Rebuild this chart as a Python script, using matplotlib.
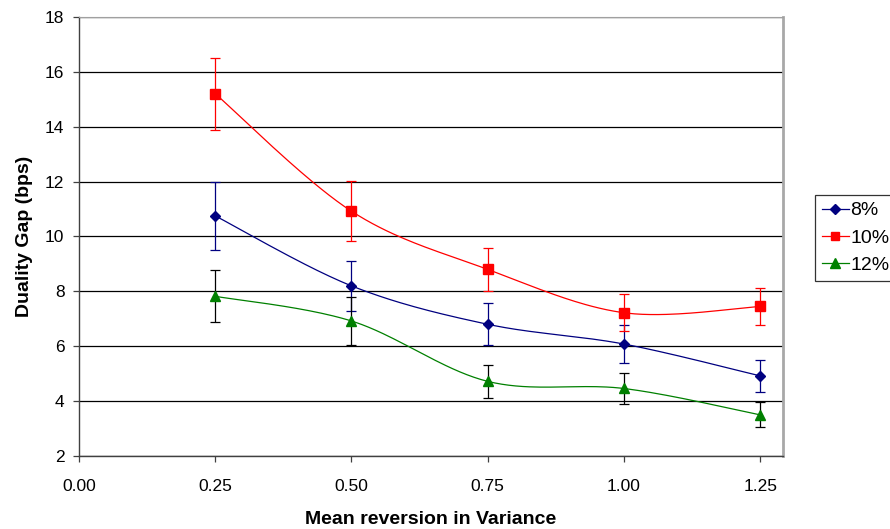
import numpy as np
import matplotlib.pyplot as plt

plt.rcParams['font.family'] = ['Liberation Sans', 'DejaVu Sans']

# mean reversion levels on the x axis
kappa = [0.25, 0.50, 0.75, 1.00, 1.25]

# duality gap (bps) and error bar half-widths per rate level
gap_8 = [10.75, 8.20, 6.80, 6.08, 4.92]
err_8 = [1.23, 0.90, 0.77, 0.68, 0.57]
gap_10 = [15.20, 10.92, 8.80, 7.22, 7.45]
err_10 = [1.31, 1.10, 0.78, 0.67, 0.68]
gap_12 = [7.82, 6.92, 4.72, 4.46, 3.50]
err_12 = [0.95, 0.89, 0.59, 0.58, 0.46]

labels = ['8%', '10%', '12%']


def smooth(x, y, n=40):
    # Catmull-Rom style cubic Bezier through the points (like Excel smoothing)
    x = np.asarray(x, float)
    y = np.asarray(y, float)
    px = np.concatenate([[x[0]], x, [x[-1]]])
    py = np.concatenate([[y[0]], y, [y[-1]]])
    xs, ys = [], []
    t = np.linspace(0, 1, n)
    for i in range(1, len(px) - 2):
        p0 = np.array([px[i], py[i]])
        p3 = np.array([px[i + 1], py[i + 1]])
        c1 = p0 + (np.array([px[i + 1], py[i + 1]]) - np.array([px[i - 1], py[i - 1]])) / 6
        c2 = p3 - (np.array([px[i + 2], py[i + 2]]) - np.array([px[i], py[i]])) / 6
        b = ((1 - t) ** 3)[:, None] * p0 + (3 * (1 - t) ** 2 * t)[:, None] * c1 \
            + (3 * (1 - t) * t ** 2)[:, None] * c2 + (t ** 3)[:, None] * p3
        xs.append(b[:, 0])
        ys.append(b[:, 1])
    return np.concatenate(xs), np.concatenate(ys)


fig = plt.figure(figsize=(8.9, 5.29), dpi=100)
ax = fig.add_axes([0.0888, 0.138, 0.791, 0.830])

ax.set_xlim(0, 1.292)
ax.set_ylim(2, 18)
ax.set_yticks(np.arange(2, 19, 2))
ax.set_xticks(np.arange(0, 1.26, 0.25))
ax.set_xticklabels(['%.2f' % v for v in np.arange(0, 1.26, 0.25)])
ax.yaxis.grid(True, color='black', linewidth=0.9)
ax.set_axisbelow(True)

series = [
    (gap_8, err_8, '#000080', '#000080', 'D', 5.5),
    (gap_10, err_10, '#FF0000', '#FF0000', 's', 6.5),
    (gap_12, err_12, '#008000', 'black', '^', 7),
]

handles = []
for (g, e, col, ecol, mk, ms), lab in zip(series, labels):
    sx, sy = smooth(kappa, g)
    ax.plot(sx, sy, color=col, linewidth=0.9, zorder=3)
    ax.errorbar(kappa, g, yerr=e, fmt='none', ecolor=ecol, elinewidth=0.9,
                capsize=3.5, capthick=0.9, zorder=4)
    ax.plot(kappa, g, linestyle='none', marker=mk, markersize=ms,
            color=col, zorder=5)
    h, = ax.plot([], [], color=col, marker=mk, markersize=ms - 0.5, linewidth=0.9,
                 label=lab)
    handles.append(h)

for side in ['left', 'bottom']:
    ax.spines[side].set_color('#404040')
    ax.spines[side].set_linewidth(1.0)
ax.spines['top'].set_color('#a0a0a0')
ax.spines['right'].set_color('#a8a8a8')
ax.spines['right'].set_linewidth(2.0)

ax.tick_params(axis='y', direction='out', length=4, width=0.9, color='#404040',
               labelsize=12.5, pad=6.5)
ax.tick_params(axis='x', direction='out', length=4, width=0.9, color='#404040',
               labelsize=12.5, pad=12.5)

ax.set_xlabel('Mean reversion in Variance', fontsize=14, fontweight='bold',
              labelpad=12)
ax.set_ylabel('Duality Gap (bps)', fontsize=14, fontweight='bold', labelpad=9)

leg = fig.legend(handles=handles, loc='upper left',
                 bbox_to_anchor=(815 / 890, 1 - 195 / 529), fontsize=14,
                 frameon=True, fancybox=False, shadow=False, borderpad=0.35,
                 handlelength=1.4, handletextpad=0.05, labelspacing=0.5,
                 borderaxespad=0)
leg.get_frame().set_edgecolor('black')
leg.get_frame().set_linewidth(0.9)

fig.savefig('out.png', dpi=100)
